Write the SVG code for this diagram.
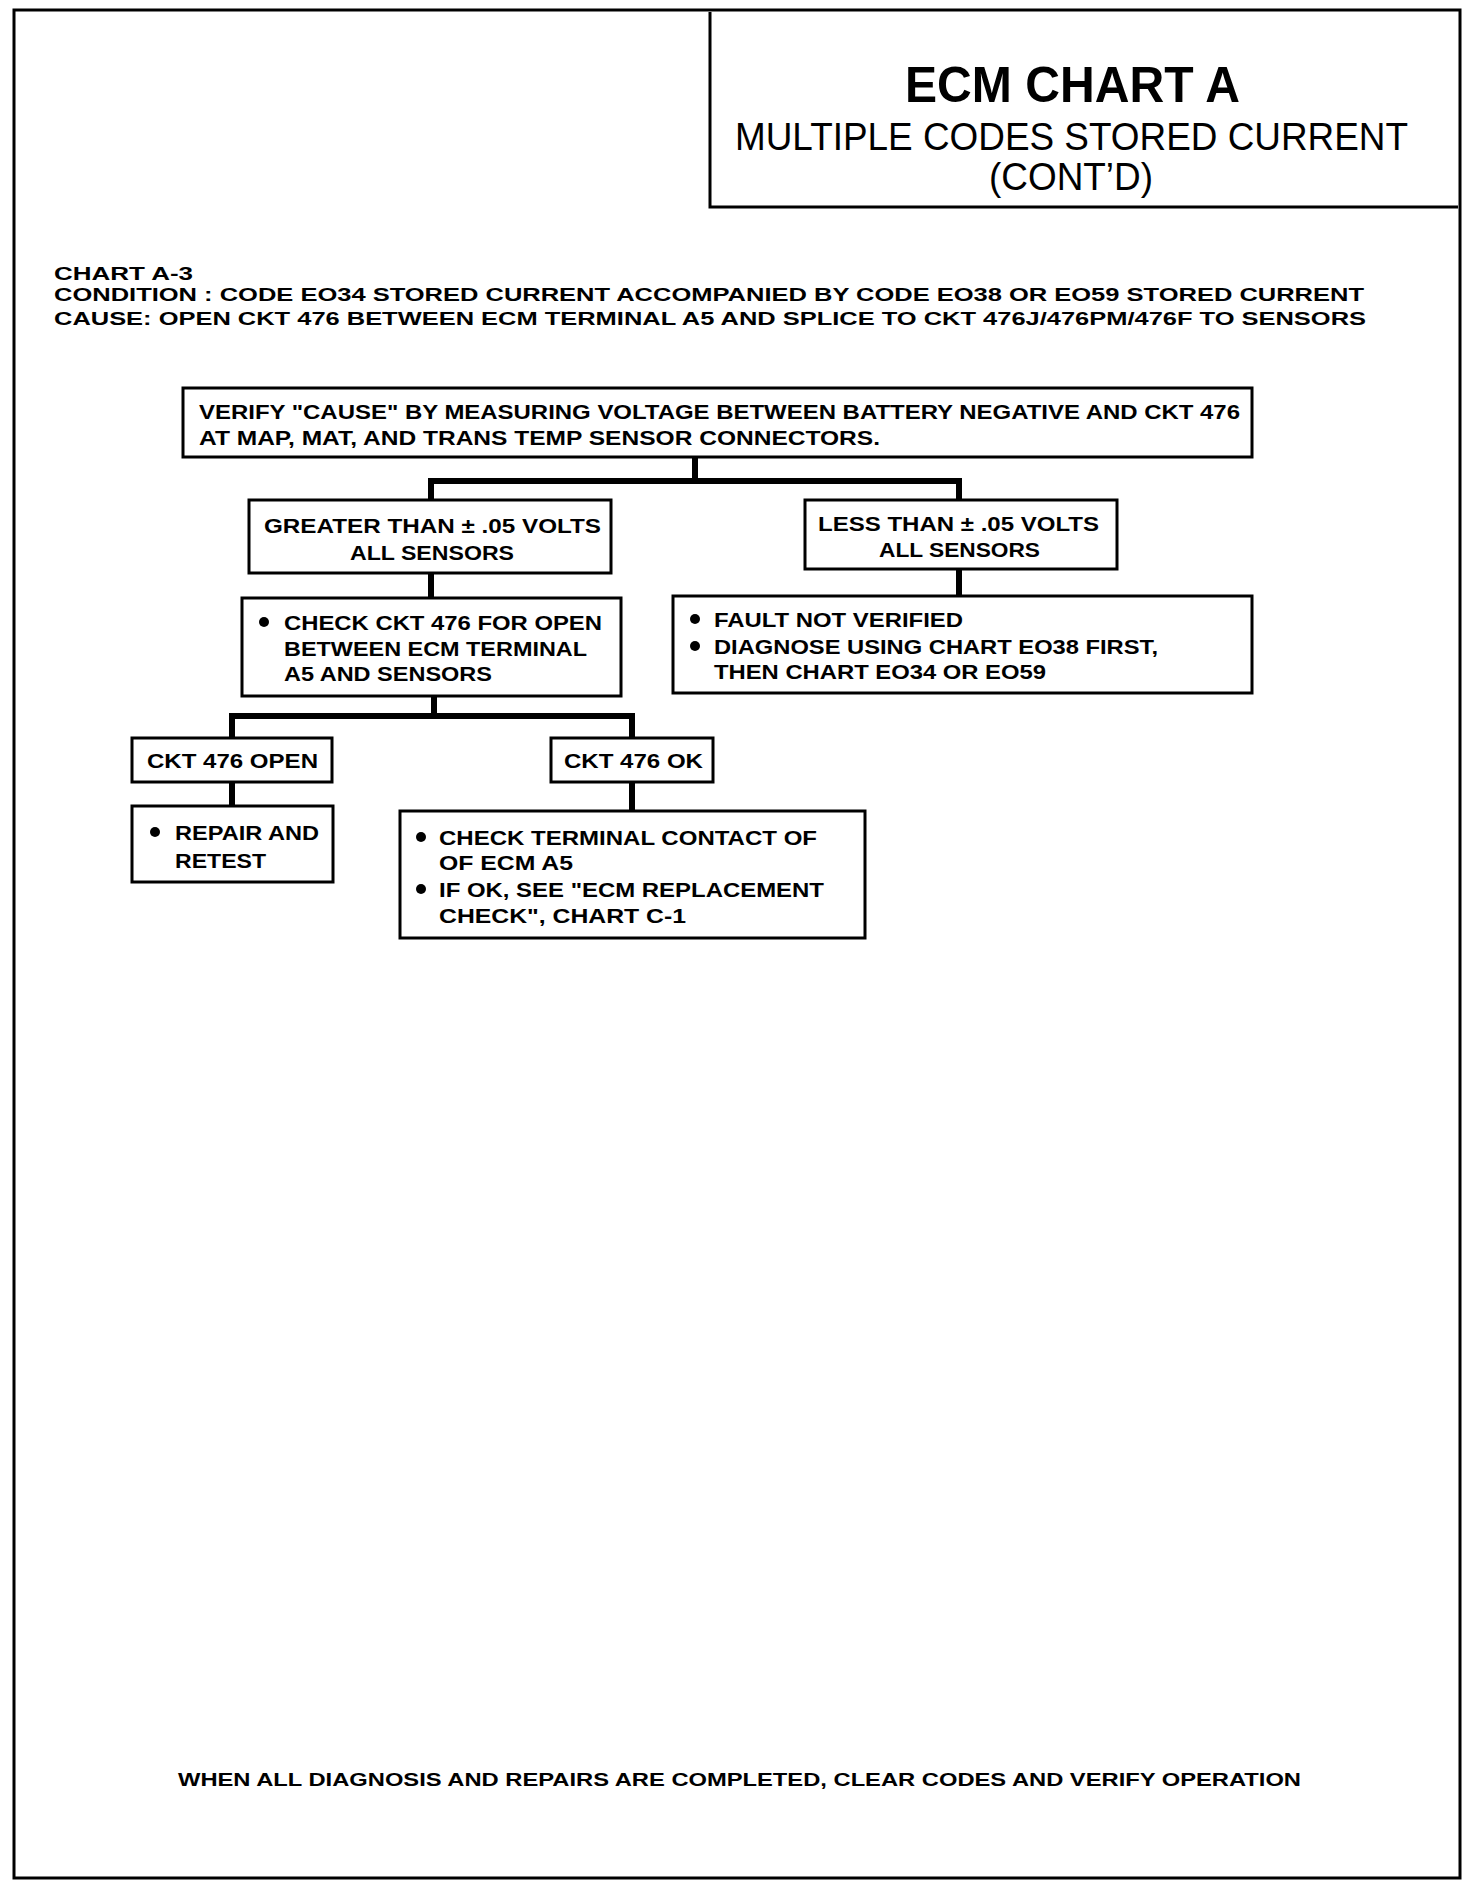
<svg xmlns="http://www.w3.org/2000/svg" width="1472" height="1888" viewBox="0 0 1472 1888">
<style>
.b{fill:#fff;stroke:#000;stroke-width:3}
.t{font-family:"Liberation Sans",Arial,sans-serif;font-weight:bold;font-size:21px;fill:#000}
.h{font-family:"Liberation Sans",Arial,sans-serif;font-weight:bold;font-size:19px;fill:#000}
.s{font-family:"Liberation Sans",Arial,sans-serif;font-size:38px;fill:#000}
.c{fill:none;stroke:#000;stroke-width:6;stroke-linejoin:miter}
.d{fill:#000}
</style>
<rect width="1472" height="1888" fill="#fff"/>
<rect x="14" y="10" width="1446" height="1868" fill="none" stroke="#000" stroke-width="3"/>
<g id="header">
<path d="M710 12 V207 H1458" fill="none" stroke="#000" stroke-width="3"/>
<text x="905" y="102" font-family="'Liberation Sans',Arial,sans-serif" font-weight="bold" font-size="50" textLength="335" lengthAdjust="spacingAndGlyphs">ECM CHART A</text>
<text class="s" x="735" y="150" textLength="673" lengthAdjust="spacingAndGlyphs">MULTIPLE CODES STORED CURRENT</text>
<text class="s" x="989" y="190" textLength="164" lengthAdjust="spacingAndGlyphs">(CONT’D)</text>
</g>
<g id="intro">
<text class="h" x="54" y="280" textLength="139" lengthAdjust="spacingAndGlyphs">CHART A-3</text>
<text class="h" x="54" y="301" textLength="1310" lengthAdjust="spacingAndGlyphs">CONDITION : CODE EO34 STORED CURRENT ACCOMPANIED BY CODE EO38 OR EO59 STORED CURRENT</text>
<text class="h" x="54" y="325" textLength="1312" lengthAdjust="spacingAndGlyphs">CAUSE: OPEN CKT 476 BETWEEN ECM TERMINAL A5 AND SPLICE TO CKT 476J/476PM/476F TO SENSORS</text>
</g>
<g id="connectors">
<path class="c" d="M695 457 V481"/>
<path class="c" d="M431 500 V481 H959 V500"/>
<path class="c" d="M431 573 V598"/>
<path class="c" d="M959 569 V596"/>
<path class="c" d="M434 696 V716"/>
<path class="c" d="M232 738 V716 H632 V738"/>
<path class="c" d="M232 782 V806"/>
<path class="c" d="M632 782 V811"/>
</g>
<g id="verify">
<rect class="b" x="183" y="388" width="1069" height="69"/>
<text class="t" x="199" y="419" textLength="1041" lengthAdjust="spacingAndGlyphs">VERIFY "CAUSE" BY MEASURING VOLTAGE BETWEEN BATTERY NEGATIVE AND CKT 476</text>
<text class="t" x="199" y="445" textLength="681" lengthAdjust="spacingAndGlyphs">AT MAP, MAT, AND TRANS TEMP SENSOR CONNECTORS.</text>
</g>
<g id="greater">
<rect class="b" x="249" y="500" width="362" height="73"/>
<text class="t" x="264" y="533" textLength="337" lengthAdjust="spacingAndGlyphs">GREATER THAN ± .05 VOLTS</text>
<text class="t" x="350" y="560" textLength="164" lengthAdjust="spacingAndGlyphs">ALL SENSORS</text>
</g>
<g id="less">
<rect class="b" x="805" y="500" width="312" height="69"/>
<text class="t" x="818" y="531" textLength="281" lengthAdjust="spacingAndGlyphs">LESS THAN ± .05 VOLTS</text>
<text class="t" x="879" y="557" textLength="161" lengthAdjust="spacingAndGlyphs">ALL SENSORS</text>
</g>
<g id="check-open">
<rect class="b" x="242" y="598" width="379" height="98"/>
<circle class="d" cx="264" cy="622" r="5"/>
<text class="t" x="284" y="630" textLength="318" lengthAdjust="spacingAndGlyphs">CHECK CKT 476 FOR OPEN</text>
<text class="t" x="284" y="656" textLength="303" lengthAdjust="spacingAndGlyphs">BETWEEN ECM TERMINAL</text>
<text class="t" x="284" y="681" textLength="208" lengthAdjust="spacingAndGlyphs">A5 AND SENSORS</text>
</g>
<g id="fault">
<rect class="b" x="673" y="596" width="579" height="97"/>
<circle class="d" cx="695" cy="619" r="5"/>
<text class="t" x="714" y="627" textLength="249" lengthAdjust="spacingAndGlyphs">FAULT NOT VERIFIED</text>
<circle class="d" cx="695" cy="646" r="5"/>
<text class="t" x="714" y="654" textLength="444" lengthAdjust="spacingAndGlyphs">DIAGNOSE USING CHART EO38 FIRST,</text>
<text class="t" x="714" y="679" textLength="332" lengthAdjust="spacingAndGlyphs">THEN CHART EO34 OR EO59</text>
</g>
<g id="ckt-open">
<rect class="b" x="132" y="738" width="200" height="44"/>
<text class="t" x="147" y="768" textLength="171" lengthAdjust="spacingAndGlyphs">CKT 476 OPEN</text>
</g>
<g id="ckt-ok">
<rect class="b" x="551" y="738" width="162" height="44"/>
<text class="t" x="564" y="768" textLength="139" lengthAdjust="spacingAndGlyphs">CKT 476 OK</text>
</g>
<g id="repair">
<rect class="b" x="132" y="806" width="201" height="76"/>
<circle class="d" cx="155" cy="832" r="5"/>
<text class="t" x="175" y="840" textLength="144" lengthAdjust="spacingAndGlyphs">REPAIR AND</text>
<text class="t" x="175" y="868" textLength="91" lengthAdjust="spacingAndGlyphs">RETEST</text>
</g>
<g id="terminal">
<rect class="b" x="400" y="811" width="465" height="127"/>
<circle class="d" cx="421" cy="837" r="5"/>
<text class="t" x="439" y="845" textLength="378" lengthAdjust="spacingAndGlyphs">CHECK TERMINAL CONTACT OF</text>
<text class="t" x="439" y="870" textLength="134" lengthAdjust="spacingAndGlyphs">OF ECM A5</text>
<circle class="d" cx="421" cy="889" r="5"/>
<text class="t" x="439" y="897" textLength="385" lengthAdjust="spacingAndGlyphs">IF OK, SEE "ECM REPLACEMENT</text>
<text class="t" x="439" y="923" textLength="247" lengthAdjust="spacingAndGlyphs">CHECK", CHART C-1</text>
</g>
<g id="footer">
<text class="h" x="178" y="1786" textLength="1123" lengthAdjust="spacingAndGlyphs">WHEN ALL DIAGNOSIS AND REPAIRS ARE COMPLETED, CLEAR CODES AND VERIFY OPERATION</text>
</g>
</svg>
